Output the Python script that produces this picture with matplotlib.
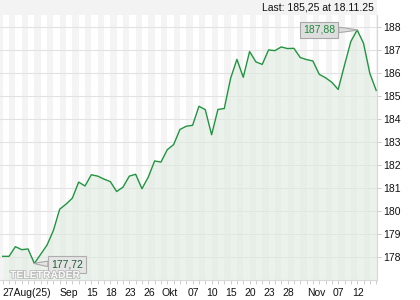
import matplotlib
matplotlib.use("Agg")
import matplotlib.pyplot as plt
import matplotlib.transforms as mtransforms
import matplotlib.patheffects as pe
import numpy as np

plt.rcParams['font.family'] = ['Liberation Sans', 'DejaVu Sans']

# ---- data ----
prices = [178.03, 178.03, 178.45, 178.32, 178.35, 177.72, 178.12, 178.52, 179.15, 180.08,
          180.30, 180.56, 181.26, 181.09, 181.58, 181.52, 181.39, 181.28, 180.85, 181.04,
          181.52, 181.60, 180.97, 181.48, 182.18, 182.13, 182.67, 182.89, 183.55, 183.69,
          183.73, 184.56, 184.41, 183.32, 184.42, 184.46, 185.77, 186.60, 185.82, 186.94,
          186.49, 186.38, 187.01, 186.98, 187.14, 187.07, 187.08, 186.68, 186.59, 186.53,
          185.95, 185.80, 185.60, 185.29, 186.35, 187.38, 187.88, 187.30, 185.99, 185.25]
tick_idx = [0, 3, 13, 16, 19, 22, 25, 29, 32, 35, 38, 41, 44, 48, 52, 55]
tick_labels = ["27Aug(25)", "Sep", "15", "18", "23", "26", "Okt", "07", "10", "15",
               "20", "23", "28", "Nov", "07", "12"]
y_ticks = [178, 179, 180, 181, 182, 183, 184, 185, 186, 187, 188]
title = "Last: 185,25 at 18.11.25"
max_label = "187,88"
min_label = "177,72"

x = np.arange(len(prices))
y = np.array(prices)

fig = plt.figure(figsize=(4.2, 3.0), dpi=100)
fig.patch.set_facecolor('white')
# top gray strip
fig.patches.append(plt.Rectangle((0, 0.95), 377/420, 0.05, transform=fig.transFigure,
                                 facecolor='#f3f3f3', edgecolor='none', zorder=0))

ax = fig.add_axes([0, 20/300, 377/420, 265/300])
ax.set_facecolor('white')
ax.set_xlim(-0.43, 59.13)
ax.set_ylim(177.0, 188.53)

# alternating stripes
for k in range(0, len(prices) // 2 + 1):
    ax.axvspan(2*k - 1, 2*k, facecolor='#f4f4f4', edgecolor='none', zorder=0)

for v in y_ticks:
    ax.axhline(v, color='#e2e2e2', lw=0.8, zorder=1)

ax.fill_between(x, y, 177.0, color='#dfeadf', alpha=0.6, zorder=2, lw=0)
ax.plot(x, y, color='#21943f', lw=1.0, zorder=3)

# spines
for s in ['top', 'left']:
    ax.spines[s].set_visible(False)
for s in ['right', 'bottom']:
    ax.spines[s].set_color('#d8d8d8')
    ax.spines[s].set_linewidth(0.8)

ax.yaxis.tick_right()
ax.set_yticks(y_ticks)
ax.set_yticklabels([str(v) for v in y_ticks])
ax.tick_params(axis='y', length=3, width=0.7, color='#cccccc', pad=1.5,
               labelsize=7.5, labelcolor='#111111')

ax.set_xticks(tick_idx)
ax.set_xticklabels(tick_labels, ha='left')
ax.set_xticks(x, minor=True)
ax.tick_params(axis='x', which='both', length=3, width=0.7, color='#cccccc',
               pad=3, labelsize=7.5, labelcolor='#111111')
# shift "Sep" label right (it is displaced to avoid overlap)
lbls = ax.get_xticklabels()
lbls[1].set_transform(lbls[1].get_transform() + mtransforms.ScaledTranslation(38/100, 0, fig.dpi_scale_trans))
for l in lbls[2:]:
    l.set_transform(l.get_transform() + mtransforms.ScaledTranslation(1/100, 0, fig.dpi_scale_trans))

# title
fig.text(374/420, 1 - 7/300, title, ha='right', va='center', fontsize=7.5, color='#111111')

# max / min callouts
imax = int(np.argmax(y))
imin = int(np.argmin(y))
ax.annotate(max_label, xy=(x[imax], y[imax]), xytext=(-38, 0), textcoords='offset pixels',
            ha='center', va='center', fontsize=7.5, color='#1a8a3a', zorder=6,
            bbox=dict(boxstyle='square,pad=0.3', fc='#dedede', ec='#a8a8a8', lw=0.8),
            arrowprops=dict(arrowstyle='wedge,tail_width=0.5,shrink_factor=0.6',
                            fc='#dedede', ec='#a8a8a8', lw=0.8, shrinkA=0, shrinkB=0))
ax.annotate(min_label, xy=(x[imin], y[imin]), xytext=(33, -1), textcoords='offset pixels',
            ha='center', va='center', fontsize=7.5, color='#1d5e35', zorder=6,
            bbox=dict(boxstyle='square,pad=0.3', fc='#e4e4e4', ec='#a8a8a8', lw=0.8, alpha=0.9),
            arrowprops=dict(arrowstyle='wedge,tail_width=0.5,shrink_factor=0.6',
                            fc='#e4e4e4', ec='#a8a8a8', lw=0.8, shrinkA=0, shrinkB=0))

# watermark
fig.text(10/420, 1 - 275/300, "TELETRADER", ha='left', va='center', fontsize=7.5,
         fontweight='bold', color='white', alpha=0.9, zorder=7,
         path_effects=[pe.withStroke(linewidth=1.2, foreground='#b5b5b5')])

fig.savefig("out.png", dpi=100, facecolor='white')
